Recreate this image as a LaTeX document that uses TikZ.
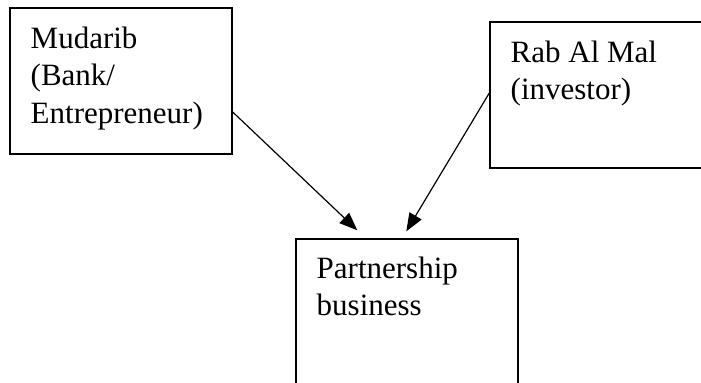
\documentclass[tikz,border=0pt]{standalone}
\usepackage{fontspec}
\setmainfont{Liberation Serif}
\usetikzlibrary{arrows.meta}

\begin{document}
\begin{tikzpicture}[
        box/.style={draw, line width=0.7pt, inner sep=0pt, minimum width=111pt, minimum height=73pt},
        lbl/.style={anchor=north west, inner sep=0pt, align=left, font=\fontsize{15.5pt}{18.75pt}\selectfont},
        arr/.style={line width=0.6pt, -{Triangle[length=9pt,width=7pt]}}
    ]
        % Frame (boxes run over the edge)
        \useasboundingbox (0,0) rectangle (350.5pt,191pt);
        \clip (0,0) rectangle (350.5pt,191pt);

        % Boxes
        \node[box] (mudarib) at (60.5pt,150.5pt) {};
        \node[box, minimum width=125pt] (rabalmal) at (307.5pt,143.5pt) {};
        \node[box, minimum height=90pt] (partner) at (203.5pt,26.5pt) {};

        % Labels
        \node[lbl] (mudaribtxt) at ([shift={(10.5pt,-9.5pt)}]mudarib.north west) {Mudarib\\(Bank/\\Entrepreneur)};
        \node[lbl] (rabalmaltxt) at ([shift={(10.5pt,-9.5pt)}]rabalmal.north west) {Rab Al Mal\\(investor)};
        \node[lbl] (partnertxt) at ([shift={(10.5pt,-9pt)}]partner.north west) {Partnership\\business};

        % Arrows into the partnership
        \draw[arr] ([yshift=-15.5pt]mudarib.east) -- ([shift={(31pt,4pt)}]partner.north west);
        \draw[arr] ([yshift=1pt]rabalmal.west) -- ([shift={(55.5pt,3.5pt)}]partner.north west);
    \end{tikzpicture}
\end{document}
